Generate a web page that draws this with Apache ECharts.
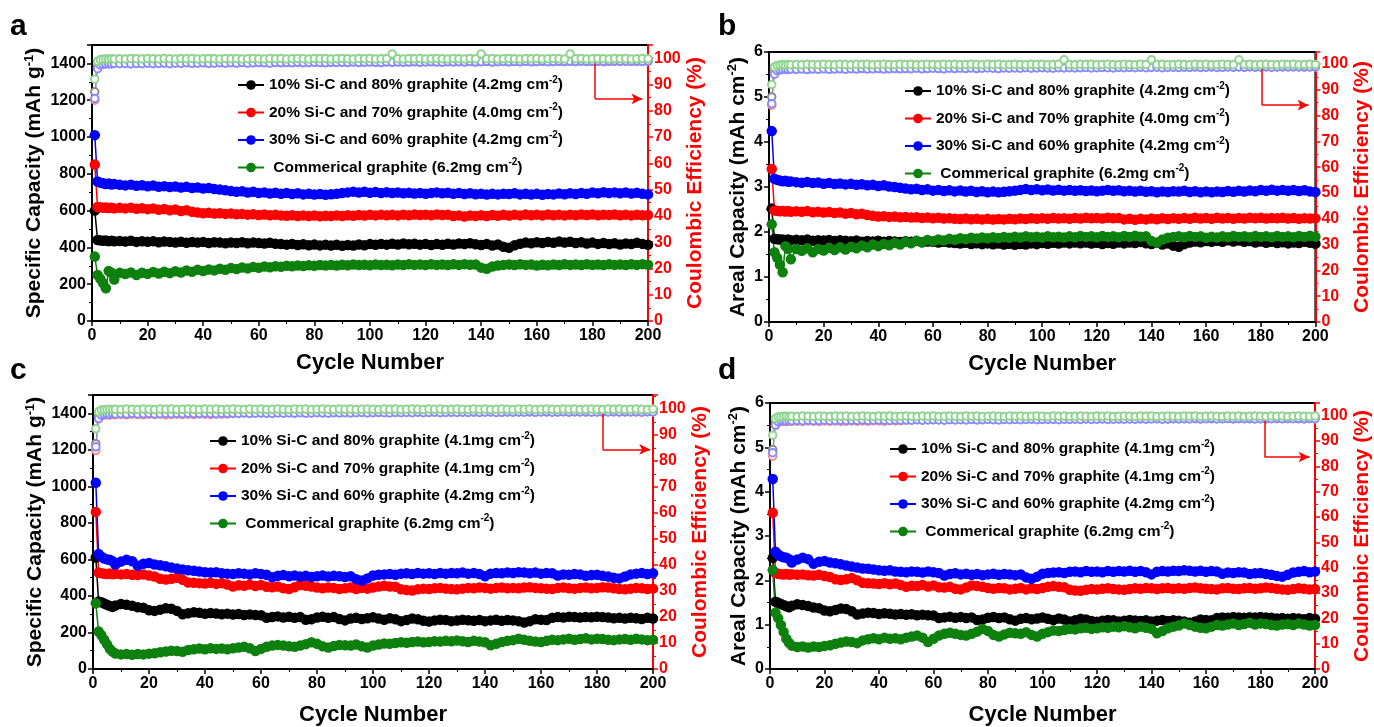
<!DOCTYPE html>
<html>
<head>
<meta charset="utf-8">
<script src="https://cdn.jsdelivr.net/npm/echarts@6/dist/echarts.min.js"></script>
<style>
  html, body { margin: 0; padding: 0; background: #fff; }
  #chart { width: 1374px; height: 727px; }
</style>
</head>
<body>
<div id="chart"></div>
<script>
// Cycle numbers at which capacity / efficiency points are plotted
const cycles = [1, 2, 3, 4, 5, 6, 7, 8,
  10, 12, 14, 16, 18, 20, 22, 24, 26, 28,
  30, 32, 34, 36, 38, 40, 42, 44, 46, 48,
  50, 52, 54, 56, 58, 60, 62, 64, 66, 68,
  70, 72, 74, 76, 78, 80, 82, 84, 86, 88,
  90, 92, 94, 96, 98, 100, 102, 104, 106, 108,
  110, 112, 114, 116, 118, 120, 122, 124, 126, 128,
  130, 132, 134, 136, 138, 140, 142, 144, 146, 148,
  150, 152, 154, 156, 158, 160, 162, 164, 166, 168,
  170, 172, 174, 176, 178, 180, 182, 184, 186, 188,
  190, 192, 194, 196, 198, 200];

// Cell set 1 (panels a, b): specific capacity, mAh g-1
const specA_10 = [600, 440, 438, 436, 437, 434, 436, 433,
  435, 432, 436, 430, 433, 431, 434, 428, 432, 430,
  427, 431, 425, 429, 426, 430, 424, 428, 426, 423,
  427, 424, 428, 422, 426, 424, 421, 425, 420, 418,
  415, 419, 413, 417, 412, 416, 411, 415, 410, 414,
  409, 413, 410, 416, 412, 418, 414, 419, 415, 420,
  416, 421, 417, 420, 415, 419, 413, 418, 414, 420,
  416, 421, 418, 423, 417, 413, 419, 410, 416, 404,
  398, 412, 420, 426, 422, 428, 424, 430, 425, 432,
  426, 431, 424, 428, 421, 426, 419, 424, 418, 422,
  416, 421, 418, 425, 419, 414];
const specA_20 = [850, 620, 618, 615, 617, 614, 616, 612,
  615, 612, 616, 610, 613, 608, 611, 605, 609, 602,
  606, 598, 602, 594, 590, 586, 588, 584, 586, 582,
  584, 580, 582, 578, 580, 576, 579, 575, 577, 574,
  572, 575, 571, 574, 570, 573, 569, 572, 570, 574,
  571, 575, 572, 576, 573, 577, 574, 578, 575, 577,
  574, 578, 575, 579, 576, 578, 575, 579, 576, 578,
  570, 574, 568, 573, 570, 575, 571, 576, 572, 577,
  573, 578, 574, 579, 575, 578, 574, 579, 575, 578,
  574, 578, 575, 579, 576, 579, 575, 578, 576, 579,
  575, 578, 574, 577, 575, 576];
const specA_30 = [1010, 758, 752, 748, 745, 747, 742, 744,
  740, 737, 741, 735, 738, 732, 736, 730, 733, 728,
  731, 726, 729, 723, 726, 720, 723, 717, 714, 710,
  706, 702, 705, 698, 702, 695, 699, 693, 697, 691,
  696, 690, 694, 688, 692, 687, 690, 686, 689, 692,
  695, 699, 703, 698, 702, 697, 701, 696, 700, 695,
  698, 694, 697, 693, 696, 692, 695, 699, 694, 697,
  692, 695, 690, 694, 689, 692, 687, 691, 688, 692,
  690, 694, 688, 692, 687, 691, 686, 690, 688, 693,
  689, 694, 690, 696, 692, 698, 694, 700, 695, 699,
  694, 698, 693, 697, 691, 688];
const specA_gr = [350, 250, 230, 205, 178, 272, 262, 225,
  262, 255, 264, 250, 262, 256, 266, 258, 268, 260,
  270, 264, 274, 268, 278, 272, 280, 275, 284, 278,
  288, 282, 291, 286, 294, 289, 296, 292, 298, 295,
  300, 297, 302, 299, 303, 300, 304, 301, 305, 302,
  306, 303, 307, 304, 306, 303, 307, 304, 306, 303,
  307, 304, 308, 305, 307, 304, 308, 305, 307, 304,
  308, 305, 309, 306, 307, 290, 284, 296, 302, 305,
  307, 304, 308, 305, 307, 302, 306, 303, 307, 304,
  308, 305, 307, 304, 308, 305, 307, 304, 308, 305,
  307, 304, 308, 305, 309, 306];

// Cell set 1: coulombic efficiency, %
const ceA_10 = [87.2, 96.9, 98.3, 98.5, 98.6, 98.7, 98.6, 98.8,
  98.7, 98.9, 98.8, 98.7, 98.9, 98.8, 99.0, 98.8, 98.9, 98.8,
  99.0, 98.9, 98.8, 99.0, 98.9, 99.0, 98.8, 99.0, 98.9, 99.1,
  98.9, 99.0, 98.9, 99.1, 99.0, 98.9, 99.1, 99.0, 98.9, 99.0,
  99.1, 99.0, 98.9, 99.1, 99.0, 99.1, 98.9, 99.0, 99.1, 99.0,
  98.9, 99.1, 99.0, 99.1, 99.0, 98.9, 99.1, 99.0, 99.1, 99.0,
  99.1, 99.0, 98.9, 99.1, 99.0, 99.1, 99.0, 98.9, 99.1, 99.0,
  99.0, 99.1, 98.9, 99.0, 99.1, 99.0, 99.1, 98.9, 99.0, 99.1,
  99.0, 98.9, 99.1, 99.0, 99.1, 99.0, 98.9, 99.1, 99.0, 99.1,
  99.0, 99.1, 98.9, 99.0, 99.1, 99.0, 99.1, 99.0, 98.9, 99.1,
  99.0, 99.1, 99.0, 98.9, 99.1, 99.0];
const ceA_20 = [84.0, 96.6, 97.9, 98.1, 98.3, 98.2, 98.4, 98.3,
  98.4, 98.3, 98.5, 98.4, 98.3, 98.5, 98.4, 98.6, 98.4, 98.5,
  98.4, 98.6, 98.5, 98.4, 98.6, 98.5, 98.6, 98.4, 98.5, 98.6,
  98.5, 98.7, 98.5, 98.6, 98.5, 98.7, 98.6, 98.5, 98.7, 98.6,
  98.7, 98.6, 98.5, 98.7, 98.6, 98.7, 98.6, 98.8, 98.6, 98.7,
  98.6, 98.8, 98.7, 98.6, 98.8, 98.7, 98.6, 98.8, 98.7, 98.8,
  98.7, 98.8, 98.6, 98.8, 98.7, 98.9, 98.7, 98.8, 98.7, 98.9,
  98.8, 98.7, 98.9, 98.8, 98.7, 98.9, 98.8, 98.7, 98.9, 98.8,
  98.7, 98.9, 98.8, 98.9, 98.7, 98.8, 98.9, 98.8, 98.7, 98.9,
  98.8, 98.9, 98.7, 98.9, 98.8, 98.9, 98.8, 98.7, 98.9, 98.8,
  98.9, 98.8, 98.9, 98.7, 98.9, 98.8];
const ceA_30 = [84.6, 96.0, 97.4, 97.7, 97.8, 97.9, 97.8, 98.0,
  97.9, 98.0, 97.8, 98.0, 97.9, 98.1, 97.9, 98.0, 98.1, 97.9,
  98.1, 98.0, 98.2, 98.0, 98.1, 98.2, 98.0, 98.1, 98.2, 98.1,
  98.2, 98.1, 98.3, 98.1, 98.2, 98.3, 98.2, 98.1, 98.3, 98.2,
  98.3, 98.2, 98.4, 98.2, 98.3, 98.4, 98.3, 98.2, 98.4, 98.3,
  98.4, 98.3, 98.5, 98.3, 98.4, 98.5, 98.4, 98.3, 98.5, 98.4,
  98.5, 98.4, 98.5, 98.6, 98.4, 98.5, 98.6, 98.5, 98.4, 98.6,
  98.5, 98.6, 98.5, 98.7, 98.5, 98.6, 98.7, 98.5, 98.6, 98.7,
  98.6, 98.7, 98.6, 98.8, 98.6, 98.7, 98.8, 98.6, 98.7, 98.8,
  98.7, 98.8, 98.7, 98.9, 98.7, 98.8, 98.9, 98.7, 98.8, 98.9,
  98.8, 98.9, 98.8, 98.9, 98.8, 98.9];
const ceA_gr = [92.0, 98.8, 99.4, 99.6, 99.7, 99.6, 99.8, 99.7,
  99.8, 99.7, 99.9, 99.8, 99.7, 99.9, 99.8, 99.7, 99.9, 99.8,
  99.7, 99.9, 99.8, 99.9, 99.7, 99.8, 99.9, 99.8, 99.7, 99.9,
  99.8, 99.9, 99.7, 99.8, 99.9, 99.8, 99.7, 99.9, 99.8, 99.9,
  99.7, 99.8, 99.9, 99.8, 99.7, 99.9, 99.8, 99.9, 99.7, 99.8,
  99.9, 99.8, 99.7, 99.9, 99.8, 99.9, 99.7, 99.8, 99.9, 101.6,
  99.8, 99.7, 99.9, 99.8, 99.9, 99.7, 99.8, 99.9, 99.8, 99.7,
  99.9, 99.8, 99.7, 99.9, 99.8, 101.6, 99.8, 99.9, 99.7, 99.8,
  99.9, 99.8, 99.7, 99.9, 99.8, 99.9, 99.7, 99.8, 99.9, 99.8,
  99.7, 101.6, 99.8, 99.9, 99.7, 99.8, 99.9, 99.8, 99.7, 99.9,
  99.8, 99.9, 99.7, 99.8, 99.9, 99.8];

// Cell set 2 (panels c, d): specific capacity, mAh g-1
const specC_10 = [610, 370, 365, 358, 352, 345, 340, 348,
  356, 352, 346, 338, 335, 322, 318, 325, 333, 330,
  318, 300, 305, 310, 308, 302, 307, 304, 300, 303,
  298, 301, 296, 299, 296, 294, 280, 284, 288, 282,
  286, 280, 284, 270, 272, 282, 286, 280, 284, 274,
  266, 276, 280, 274, 278, 283, 276, 270, 278, 272,
  262, 268, 276, 272, 264, 260, 266, 270, 268, 262,
  265, 270, 267, 264, 268, 262, 266, 270, 264, 268,
  266, 262, 254, 262, 272, 270, 268, 280, 284, 282,
  286, 284, 282, 285, 283, 286, 284, 282, 278, 280,
  276, 280, 278, 274, 280, 276];
const specC_20 = [860, 528, 524, 522, 520, 523, 519, 521,
  518, 520, 516, 514, 518, 512, 506, 494, 490, 494,
  500, 488, 474, 472, 470, 468, 472, 466, 470, 462,
  452, 458, 456, 462, 454, 460, 450, 448, 452, 442,
  438, 448, 460, 456, 452, 446, 442, 446, 444, 438,
  442, 446, 438, 444, 440, 446, 452, 456, 452, 450,
  436, 432, 430, 436, 440, 438, 442, 444, 440, 438,
  436, 440, 444, 442, 446, 444, 440, 444, 446, 442,
  444, 442, 446, 448, 444, 442, 440, 438, 444, 446,
  442, 440, 444, 446, 442, 444, 448, 446, 442, 438,
  436, 440, 444, 442, 438, 440];
const specC_30 = [1020, 630, 615, 605, 600, 598, 590, 572,
  588, 598, 590, 565, 576, 580, 572, 568, 562, 556,
  550, 545, 540, 538, 534, 530, 528, 530, 524, 522,
  520, 524, 522, 518, 524, 520, 516, 502, 510, 514,
  508, 512, 506, 510, 504, 508, 512, 506, 510, 508,
  504, 508, 492, 484, 496, 512, 516, 518, 520, 516,
  522, 524, 520, 526, 522, 524, 520, 526, 522, 526,
  524, 528, 522, 526, 520, 508, 522, 526, 524, 528,
  526, 530, 528, 524, 528, 522, 526, 524, 512, 518,
  516, 520, 518, 510, 514, 516, 510, 506, 500, 496,
  506, 518, 522, 526, 520, 524];
const specC_gr = [360, 205, 185, 160, 135, 110, 95, 85,
  80, 82, 78, 82, 80, 84, 86, 92, 96, 100,
  98, 94, 104, 108, 112, 108, 114, 110, 112, 108,
  114, 118, 122, 114, 98, 110, 122, 128, 132, 128,
  124, 122, 128, 136, 146, 138, 124, 118, 126, 132,
  130, 128, 134, 124, 118, 128, 134, 140, 138, 142,
  146, 144, 148, 150, 146, 148, 152, 150, 154, 152,
  156, 152, 148, 154, 150, 146, 130, 138, 148, 154,
  158, 166, 160, 154, 150, 148, 154, 160, 158, 162,
  166, 160, 164, 168, 162, 166, 164, 160, 158, 162,
  164, 160, 166, 162, 158, 160];

// Cell set 2: coulombic efficiency, %
const ceC_10 = [86.6, 97.0, 98.3, 98.6, 98.7, 98.8, 98.7, 98.9,
  98.8, 98.9, 98.7, 98.9, 98.8, 99.0, 98.8, 98.9, 98.8, 99.0,
  98.9, 99.0, 98.8, 99.0, 98.9, 99.1, 98.9, 99.0, 98.9, 99.1,
  99.0, 98.9, 99.1, 99.0, 98.9, 99.1, 99.0, 99.1, 98.9, 99.0,
  99.1, 99.0, 98.9, 99.1, 99.0, 99.1, 99.0, 98.9, 99.1, 99.0,
  99.1, 99.0, 98.9, 99.1, 99.0, 99.1, 99.0, 99.1, 98.9, 99.0,
  99.1, 99.0, 99.1, 98.9, 99.0, 99.1, 99.0, 99.1, 99.0, 98.9,
  99.1, 99.0, 99.1, 99.0, 98.9, 99.1, 99.0, 99.1, 99.0, 99.1,
  98.9, 99.0, 99.1, 99.0, 99.1, 99.0, 98.9, 99.1, 99.0, 99.1,
  99.0, 99.1, 99.0, 98.9, 99.1, 99.0, 99.1, 99.0, 99.1, 98.9,
  99.0, 99.1, 99.0, 99.1, 99.0, 99.1];
const ceC_20 = [84.0, 96.2, 97.4, 97.6, 97.7, 97.6, 97.8, 97.7,
  97.8, 97.7, 97.9, 97.8, 97.7, 97.9, 97.8, 97.9, 97.7, 97.8,
  97.9, 97.8, 97.9, 97.8, 98.0, 97.9, 97.8, 98.0, 97.9, 98.0,
  98.2, 98.3, 98.4, 98.3, 98.5, 98.4, 98.5, 98.4, 98.6, 98.5,
  98.6, 98.5, 98.7, 98.6, 98.5, 98.7, 98.6, 98.7, 98.6, 98.8,
  98.7, 98.6, 98.8, 98.7, 98.8, 98.7, 98.6, 98.8, 98.7, 98.8,
  98.7, 98.9, 98.7, 98.8, 98.9, 98.7, 98.8, 98.9, 98.8, 98.7,
  98.9, 98.8, 98.9, 98.7, 98.8, 98.9, 98.8, 98.9, 98.7, 98.8,
  98.9, 98.8, 98.9, 98.8, 98.7, 98.9, 98.8, 98.9, 98.8, 98.9,
  98.7, 98.8, 98.9, 98.8, 98.9, 98.8, 98.7, 98.9, 98.8, 98.9,
  98.8, 98.9, 98.8, 98.7, 98.9, 98.8];
const ceC_30 = [85.4, 96.3, 97.6, 97.9, 98.0, 97.9, 98.1, 98.0,
  98.1, 98.0, 98.2, 98.0, 98.1, 98.2, 98.0, 98.1, 98.2, 98.1,
  98.2, 98.1, 98.3, 98.1, 98.2, 98.3, 98.2, 98.1, 98.3, 98.2,
  98.3, 98.2, 98.4, 98.2, 98.3, 98.4, 98.3, 98.2, 98.4, 98.3,
  98.4, 98.3, 98.5, 98.3, 98.4, 98.5, 98.4, 98.3, 98.5, 98.4,
  98.5, 98.4, 98.5, 98.6, 98.4, 98.5, 98.6, 98.5, 98.4, 98.6,
  98.5, 98.6, 98.5, 98.7, 98.5, 98.6, 98.7, 98.5, 98.6, 98.7,
  98.6, 98.7, 98.6, 98.8, 98.6, 98.7, 98.8, 98.6, 98.7, 98.8,
  98.7, 98.8, 98.7, 98.9, 98.7, 98.8, 98.9, 98.7, 98.8, 98.9,
  98.8, 98.9, 98.8, 98.9, 98.7, 98.8, 98.9, 98.8, 98.9, 98.8,
  98.9, 98.8, 98.9, 98.8, 98.9, 98.8];
const ceC_gr = [92.3, 98.9, 99.5, 99.6, 99.7, 99.8, 99.7, 99.8,
  99.7, 99.9, 99.8, 99.7, 99.9, 99.8, 99.7, 99.9, 99.8, 99.9,
  99.7, 99.8, 99.9, 99.8, 99.7, 99.9, 99.8, 99.9, 99.7, 99.8,
  99.9, 99.8, 99.7, 99.9, 99.8, 99.9, 99.7, 99.8, 99.9, 99.8,
  99.7, 99.9, 99.8, 99.9, 99.7, 99.8, 99.9, 99.8, 99.7, 99.9,
  99.8, 99.9, 99.7, 99.8, 99.9, 99.8, 99.7, 99.9, 99.8, 99.9,
  99.7, 99.8, 99.9, 99.8, 99.7, 99.9, 99.8, 99.9, 99.7, 99.8,
  99.9, 99.8, 99.7, 99.9, 99.8, 99.9, 99.7, 99.8, 99.9, 99.8,
  99.7, 99.9, 99.8, 99.9, 99.7, 99.8, 99.9, 99.8, 99.7, 99.9,
  99.8, 99.9, 99.7, 99.8, 99.9, 99.8, 99.7, 99.9, 99.8, 99.9,
  99.7, 99.8, 99.9, 99.8, 99.7, 99.9];

// Electrode mass loadings, mg cm-2 (same order as the series)
const loadingA = [4.2, 4.0, 4.2, 6.2];
const loadingC = [4.1, 4.1, 4.2, 6.2];

const namesA = ['10% Si-C and 80% graphite (4.2mg cm-2)', '20% Si-C and 70% graphite (4.0mg cm-2)',
  '30% Si-C and 60% graphite (4.2mg cm-2)', ' Commerical graphite (6.2mg cm-2)'];
const namesC = ['10% Si-C and 80% graphite (4.1mg cm-2)', '20% Si-C and 70% graphite (4.1mg cm-2)',
  '30% Si-C and 60% graphite (4.2mg cm-2)', ' Commerical graphite (6.2mg cm-2)'];

const FONT = '"Liberation Sans", Arial, Helvetica, sans-serif';
const colors = ['#000000', '#ff0000', '#0000ff', '#0d800d'];
const ceColors = ['#8c8c8c', '#ff8a8a', '#8a8aff', '#8fd48f'];
const RED = '#ff0000';

const pairs = vals => cycles.map((c, i) => [c, vals[i]]);
// areal capacity (mAh cm-2) = specific capacity (mAh g-1) x loading (mg cm-2) / 1000
const toAreal = (vals, loading) => vals.map(v => Math.round(v * loading) / 1000);

const specA = [specA_10, specA_20, specA_30, specA_gr];
const specC = [specC_10, specC_20, specC_30, specC_gr];
const ceA = [ceA_10, ceA_20, ceA_30, ceA_gr];
const ceC = [ceC_10, ceC_20, ceC_30, ceC_gr];

const panels = [
  { letter: 'a', letterPos: [10, 27], grid: { left: 92, top: 45, width: 556, height: 276 },
    cap: specA, ce: ceA, names: namesA, yMax: 1500, yInterval: 200,
    yName: 'Specific Capacity (mAh g{sup|-1})', yNameGap: 44, ceMax: 105, rNameGap: 33,
    xNameGap: 31, legend: [237, 75], arrow: [181, 98.0, 84.5, 198] },
  { letter: 'b', letterPos: [718, 27], grid: { left: 769, top: 52, width: 547, height: 270 },
    cap: specA.map((s, k) => toAreal(s, loadingA[k])), ce: ceA, names: namesA, yMax: 6, yInterval: 1,
    yName: 'Areal Capacity (mAh cm{sup|-2})', yNameGap: 17, ceMax: 104.6, rNameGap: 36,
    xNameGap: 31, legend: [904, 81], arrow: [180.5, 98.0, 84.0, 197.5] },
  { letter: 'c', letterPos: [10, 371], grid: { left: 93, top: 395, width: 560, height: 277 },
    cap: specC, ce: ceC, names: namesC, yMax: 1500, yInterval: 200,
    yName: 'Specific Capacity (mAh g{sup|-1})', yNameGap: 44, ceMax: 105.3, rNameGap: 33,
    xNameGap: 35, legend: [209, 431], arrow: [182, 98.0, 84.4, 199] },
  { letter: 'd', letterPos: [718, 371], grid: { left: 770, top: 403, width: 546, height: 270 },
    cap: specC.map((s, k) => toAreal(s, loadingC[k])), ce: ceC, names: namesC, yMax: 6, yInterval: 1,
    yName: 'Areal Capacity (mAh cm{sup|-2})', yNameGap: 17, ceMax: 105, rNameGap: 37,
    xNameGap: 35, legend: [889, 439], arrow: [181.5, 98.0, 83.7, 198] }
];

const supRich = (size, color) => ({
  sup: { fontSize: size, fontWeight: 'bold', fontFamily: FONT, color: color, verticalAlign: 'top', lineHeight: size - 2 }
});

const option = {
  animation: false,
  backgroundColor: '#ffffff',
  grid: [], xAxis: [], yAxis: [], series: [], legend: [], graphic: []
};

panels.forEach((p, i) => {
  option.grid.push(Object.assign({ show: true, borderColor: '#000', borderWidth: 2, backgroundColor: 'transparent' }, p.grid));

  option.xAxis.push({
    gridIndex: i, type: 'value', min: 0, max: 200, interval: 20,
    name: 'Cycle Number', nameLocation: 'middle', nameGap: p.xNameGap,
    nameTextStyle: { fontSize: 22, fontWeight: 'bold', color: '#000', fontFamily: FONT },
    axisLine: { onZero: false, lineStyle: { color: '#000', width: 2 } },
    axisTick: { length: 5, lineStyle: { color: '#000', width: 1.5 } },
    minorTick: { show: true, splitNumber: 2, length: 3, lineStyle: { color: '#000', width: 1 } },
    axisLabel: { fontSize: 16, fontWeight: 'bold', color: '#000', fontFamily: FONT, margin: 7 },
    splitLine: { show: false }
  });

  option.yAxis.push({
    gridIndex: i, type: 'value', position: 'left', min: 0, max: p.yMax, interval: p.yInterval,
    name: p.yName, nameLocation: 'middle', nameRotate: 90, nameGap: p.yNameGap,
    nameTextStyle: { fontSize: 21, fontWeight: 'bold', color: '#000', fontFamily: FONT, lineHeight: 24,
      rich: supRich(13, '#000') },
    axisLine: { show: true, lineStyle: { color: '#000', width: 2 } },
    axisTick: { show: true, length: 5, lineStyle: { color: '#000', width: 1.5 } },
    minorTick: { show: true, splitNumber: 2, length: 3, lineStyle: { color: '#000', width: 1 } },
    axisLabel: { fontSize: 16, fontWeight: 'bold', color: '#000', fontFamily: FONT, margin: 6,
      formatter: v => (Math.abs(v / p.yInterval - Math.round(v / p.yInterval)) < 1e-6 ? String(v) : '') },
    splitLine: { show: false }
  });

  option.yAxis.push({
    gridIndex: i, type: 'value', position: 'right', min: 0, max: p.ceMax, interval: 10,
    name: 'Coulombic Efficiency (%)', nameLocation: 'middle', nameRotate: 90, nameGap: p.rNameGap,
    nameTextStyle: { fontSize: 21, fontWeight: 'bold', color: RED, fontFamily: FONT },
    axisLine: { show: true, lineStyle: { color: RED, width: 2 } },
    axisTick: { show: true, length: 5, lineStyle: { color: RED, width: 1.5 } },
    minorTick: { show: true, splitNumber: 2, length: 3, lineStyle: { color: RED, width: 1 } },
    axisLabel: { fontSize: 16, fontWeight: 'bold', color: RED, fontFamily: FONT, margin: 6,
      formatter: v => (v % 10 === 0 ? String(v) : '') },
    splitLine: { show: false }
  });

  p.cap.forEach((vals, k) => {
    option.series.push({
      type: 'line', name: p.names[k], xAxisIndex: i, yAxisIndex: 2 * i,
      data: pairs(vals), symbol: 'circle', symbolSize: 10.5, color: colors[k],
      lineStyle: { width: 1.5, color: colors[k] }, itemStyle: { color: colors[k] }, z: 3
    });
  });

  p.ce.forEach((vals, k) => {
    const s = {
      type: 'line', name: 'CE-' + p.letter + '-' + k, xAxisIndex: i, yAxisIndex: 2 * i + 1,
      data: pairs(vals), symbol: 'emptyCircle', symbolSize: 7.5, color: ceColors[k],
      lineStyle: { width: 1, color: ceColors[k] }, itemStyle: { color: ceColors[k], borderWidth: 1 }, z: 4
    };
    if (k === 3) {
      const [ax, ay0, ay1, ax1] = p.arrow;
      s.markLine = {
        silent: true, symbol: ['none', 'none'], symbolSize: 9, label: { show: false },
        lineStyle: { color: RED, width: 1.5, type: 'solid' },
        data: [
          [{ coord: [ax, ay0] }, { coord: [ax, ay1] }],
          [{ coord: [ax, ay1] }, { coord: [ax1, ay1], symbol: 'arrow', symbolSize: [8, 11] }]
        ]
      };
    }
    option.series.push(s);
  });

  option.legend.push({
    left: p.legend[0], top: p.legend[1], orient: 'vertical', selectedMode: false,
    itemWidth: 26, itemHeight: 12, itemGap: 7.5, padding: 0,
    data: p.names,
    formatter: n => n.replace('cm-2', 'cm{sup|-2}'),
    textStyle: { fontSize: 15.5, fontWeight: 'bold', color: '#000', fontFamily: FONT, lineHeight: 20,
      rich: supRich(10, '#000') }
  });

  option.graphic.push({
    type: 'text', x: p.letterPos[0], y: p.letterPos[1], silent: true,
    style: { text: p.letter, fontSize: 30, fontWeight: 'bold', fontFamily: FONT, fill: '#000', verticalAlign: 'middle' }
  });
});

const chart = echarts.init(document.getElementById('chart'), null, { renderer: 'canvas' });
chart.setOption(option);
</script>
</body>
</html>
